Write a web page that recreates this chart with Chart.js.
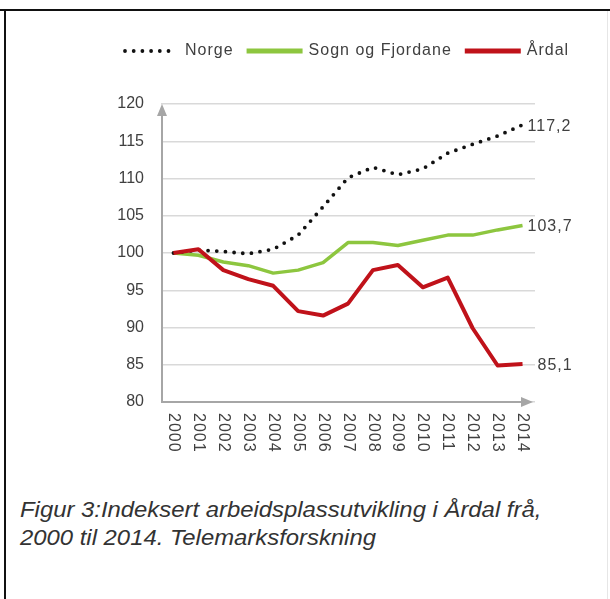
<!DOCTYPE html>
<html>
<head>
<meta charset="utf-8">
<script src="https://cdn.jsdelivr.net/npm/chart.js@4"></script>
<style>
  body { margin: 0; background: #fff; }
  #top { position: absolute; left: 0; top: 9px; width: 610px; height: 2px; background: #111; }
  #left { position: absolute; left: 4px; top: 9px; width: 2px; height: 590px; background: #111; }
  #right { position: absolute; left: 607px; top: 11px; width: 1px; height: 588px; background: #e6e6e6; }
  #wrap { position: absolute; left: 0; top: 0; width: 610px; height: 470px; }
  #caption {
    position: absolute; left: 20px; top: 496px; white-space: nowrap;
    font: italic 21.5px "Liberation Sans", Arial, sans-serif; line-height: 28px; color: #333;
    transform: scaleX(1.11); transform-origin: left top;
  }
</style>
</head>
<body>
<div id="top"></div><div id="left"></div><div id="right"></div>
<div id="wrap"><canvas id="myChart"></canvas></div>
<div id="caption">Figur 3:Indeksert arbeidsplassutvikling i Årdal frå,<br>2000 til 2014. Telemarksforskning</div>
<script>
const years = ['2000','2001','2002','2003','2004','2005','2006','2007','2008','2009','2010','2011','2012','2013','2014'];
const norge = [100, 100.4, 100.2, 99.9, 100.5, 102.4, 106.2, 110.1, 111.5, 110.5, 111.3, 113.4, 114.6, 115.7, 117.2];
const sognFjordane = [100, 99.7, 98.8, 98.3, 97.3, 97.7, 98.7, 101.4, 101.4, 101.0, 101.7, 102.4, 102.4, 103.1, 103.7];
const ardal = [100, 100.5, 97.7, 96.5, 95.6, 92.2, 91.6, 93.2, 97.7, 98.4, 95.4, 96.7, 89.9, 84.9, 85.1];
const seriesNames = ['Norge', 'Sogn og Fjordane', 'Årdal'];
const yMin = 80, yMax = 120, yStep = 5;

const FONT = '"Liberation Sans", Arial, sans-serif';
const RED = '#c0121a', GREEN = '#8dc63f', DOTS = '#111';

// legend, axis arrows, rotated year labels and end-of-line values
const decor = {
  id: 'decor',
  beforeDatasetsDraw(chart) {
    const ctx = chart.ctx, a = chart.chartArea;
    ctx.save();
    ctx.strokeStyle = '#a6a6a6';
    ctx.fillStyle = '#a6a6a6';
    ctx.lineWidth = 2;
    const ax = a.left + 1;
    ctx.beginPath();
    ctx.moveTo(ax, a.bottom + 1);
    ctx.lineTo(ax, a.top + 8);
    ctx.moveTo(a.left, a.bottom);
    ctx.lineTo(a.right - 10, a.bottom);
    ctx.stroke();
    ctx.beginPath();
    ctx.moveTo(ax, a.top);
    ctx.lineTo(ax - 5, a.top + 12);
    ctx.lineTo(ax + 5, a.top + 12);
    ctx.closePath();
    ctx.fill();
    ctx.beginPath();
    ctx.moveTo(a.right - 2, a.bottom);
    ctx.lineTo(a.right - 14, a.bottom - 5);
    ctx.lineTo(a.right - 14, a.bottom + 5);
    ctx.closePath();
    ctx.fill();
    ctx.restore();
  },
  afterDraw(chart) {
    const ctx = chart.ctx, a = chart.chartArea;
    const x = chart.scales.x, y = chart.scales.y;
    ctx.save();
    ctx.letterSpacing = '1px';
    ctx.font = '16px ' + FONT;
    ctx.fillStyle = '#404040';

    // year labels, reading top to bottom
    ctx.textAlign = 'left';
    ctx.textBaseline = 'middle';
    years.forEach((yr, i) => {
      ctx.save();
      ctx.translate(x.getPixelForValue(i), a.bottom + 11);
      ctx.rotate(Math.PI / 2);
      ctx.fillText(yr, 0, 0);
      ctx.restore();
    });

    // values at the end of each line
    const last = years.length - 1;
    [norge, sognFjordane, ardal].forEach((s, k) => {
      const v = s[last];
      const gap = k === 2 ? 15 : 5;
      ctx.fillText(v.toFixed(1).replace('.', ','), x.getPixelForValue(last) + gap, y.getPixelForValue(v) + 1.5);
    });

    // legend
    let lx = 123;
    const ly = 51;
    chart.data.datasets.slice().sort((p, q) => p.legendIndex - q.legendIndex).forEach(ds => {
      ctx.save();
      ctx.strokeStyle = ds.borderColor;
      if (ds.borderDash && ds.borderDash.length) {
        ctx.setLineDash([0, 8.7]);
        ctx.lineCap = 'round';
        ctx.lineWidth = 3.8;
        ctx.beginPath();
        ctx.moveTo(lx + 2, ly);
        ctx.lineTo(lx + 54, ly);
        ctx.stroke();
      } else {
        ctx.lineWidth = 5;
        ctx.beginPath();
        ctx.moveTo(lx, ly);
        ctx.lineTo(lx + 56, ly);
        ctx.stroke();
      }
      ctx.restore();
      lx += 62;
      ctx.fillText(ds.label, lx, ly);
      lx += ctx.measureText(ds.label).width + 13;
    });
    ctx.restore();
  }
};

const ctx = document.getElementById('myChart').getContext('2d');

const chart = new Chart(ctx, {
  type: 'line',
  data: {
    labels: years,
    datasets: [
      { label: seriesNames[2], data: ardal, borderColor: RED, borderWidth: 4, legendIndex: 2 },
      { label: seriesNames[0], data: norge, borderColor: DOTS, borderWidth: 3.8,
        borderDash: [0, 8.7], borderCapStyle: 'round', legendIndex: 0 },
      { label: seriesNames[1], data: sognFjordane, borderColor: GREEN, borderWidth: 3.5, legendIndex: 1 }
    ]
  },
  options: {
    responsive: true,
    maintainAspectRatio: false,
    animation: false,
    elements: { point: { radius: 0 }, line: { tension: 0, borderJoinStyle: 'round' } },
    layout: { padding: { left: 0, right: 75, top: 104, bottom: 8 } },
    plugins: { legend: { display: false }, tooltip: { enabled: false } },
    scales: {
      x: {
        offset: true,
        grid: { display: false },
        border: { display: false },
        ticks: { display: false },
        afterFit(scale) { scale.height = 60; }
      },
      y: {
        min: yMin,
        max: yMax,
        grid: { color: '#d9d9d9', lineWidth: 1.5, drawTicks: false },
        border: { display: false },
        ticks: { stepSize: yStep, padding: 17, color: '#404040', font: { family: FONT, size: 16 } },
        afterFit(scale) { scale.width = 161; }
      }
    }
  },
  plugins: [decor]
});
</script>
</body>
</html>
